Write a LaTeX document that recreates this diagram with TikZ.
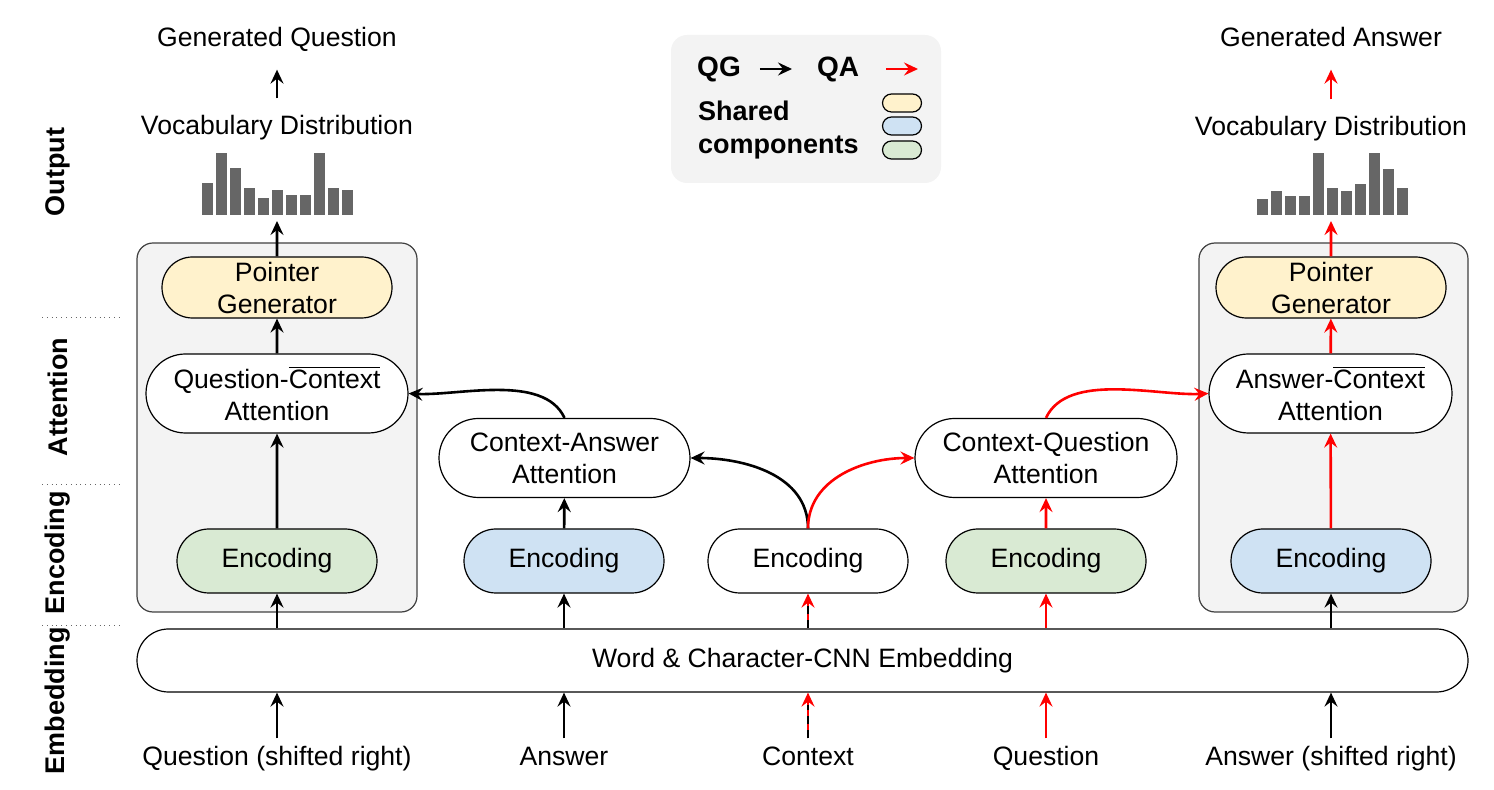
\documentclass[tikz,border=0pt]{standalone}
\usepackage{fontspec}
\setmainfont{Liberation Sans}
\usetikzlibrary{positioning,shapes.misc,arrows.meta}
\definecolor{ptryellow}{HTML}{FFF2CC}
\definecolor{encblue}{HTML}{CFE2F3}
\definecolor{encgreen}{HTML}{D9EAD3}
\definecolor{panelgray}{HTML}{F3F3F3}
\definecolor{bargray}{HTML}{666666}
\newcommand{\ctxbar}{\ensuremath{\overline{\mbox{Context}}}}

\begin{document}
\begin{tikzpicture}[x=0.5pt,y=-0.5pt,
                    font=\fontsize{13.3}{16}\selectfont,
                    >={Stealth[length=7pt,width=6.5pt,inset=2.5pt]},
                    pill/.style={rounded rectangle,draw,line width=0.6pt,align=center,inner sep=0pt},
                    enc node/.style={pill,minimum width=100pt,minimum height=32pt},
                    att node/.style={pill,fill=white,minimum width=131pt,minimum height=39.5pt},
                    ptr node/.style={pill,fill=ptryellow,minimum width=115pt,minimum height=30.5pt},
                    key pill/.style={pill,minimum width=19.5pt,minimum height=9pt},
                    io label/.style={text height=9.8pt,text depth=2.8pt},
                    flow/.style={->,line width=1.3pt},
                    qa flow/.style={flow,red},
                    panel/.style={draw=black!75,fill=panelgray,rounded corners=8pt,line width=0.6pt},
                    layer/.style={rotate=90,font=\fontsize{13.5}{16}\selectfont\bfseries}]

  \useasboundingbox (0,0) rectangle (1494,790);

  % panels
  \fill[panelgray,rounded corners=8pt] (671,35) rectangle (941,183);
  \draw[panel] (137,243) rectangle (417,612);
  \draw[panel] (1199,243) rectangle (1468,612);

  % layer labels
  \node[layer] at (58,172) {Output};
  \node[layer] at (58,397) {Attention};
  \node[layer] at (58,553) {Encoding};
  \node[layer] at (58,701) {Embedding};
  \foreach \y in {317,484,625}
    \draw[dotted,black!60] (42,\y) -- (122,\y);

  % legend
  \node[font=\fontsize{14}{16}\selectfont\bfseries] (qg) at (719,69) {QG};
  \coordinate (qgtip) at (792,69);
  \node[font=\fontsize{14}{16}\selectfont\bfseries] (qa) at (838,69) {QA};
  \coordinate (qatip) at (918,69);
  \draw[flow,shorten <=6pt] (qg) -- (qgtip);
  \draw[qa flow,shorten <=10pt] (qa) -- (qatip);
  \node[anchor=west,align=left,font=\fontsize{13.5}{16.5}\selectfont\bfseries] (shared) at (691,130) {Shared\\components};
  \node[key pill,fill=ptryellow] (key1) at (902,103) {};
  \node[key pill,fill=encblue] (key2) at (902,126) {};
  \node[key pill,fill=encgreen] (key3) at (902,150) {};

  % embedding
  \node[pill,fill=white,minimum width=665.5pt,minimum height=31.5pt] (emb) at (802.5,660.5) {Word \& Character-CNN Embedding};

  % inputs
  \node[io label] (qin) at (277,758) {Question (shifted right)};
  \node[io label] (ain) at (564,758) {Answer};
  \node[io label] (cin) at (808,758) {Context};
  \node[io label] (qqin) at (1046,758) {Question};
  \node[io label] (ain2) at (1331,758) {Answer (shifted right)};

  % encodings
  \node[enc node,fill=encgreen] (lenc) at (277,561) {Encoding};
  \node[enc node,fill=encblue] (aenc) at (564,561) {Encoding};
  \node[enc node,fill=white] (cenc) at (808,561) {Encoding};
  \node[enc node,fill=encgreen] (qenc) at (1046,561) {Encoding};
  \node[enc node,fill=encblue] (renc) at (1331,561) {Encoding};

  % attention
  \node[att node] (qcatt) at (277,393.5) {Question-\ctxbar\\Attention};
  \node[att node,minimum width=125.5pt] (caatt) at (564.5,458) {Context-Answer\\Attention};
  \node[att node] (cqatt) at (1046,458) {Context-Question\\Attention};
  \node[att node,minimum width=121.5pt] (acatt) at (1330.5,393.5) {Answer-\ctxbar\\Attention};

  % pointer generators
  \node[ptr node] (lptr) at (277,287.5) {Pointer\\Generator};
  \node[ptr node] (rptr) at (1331,287.5) {Pointer\\Generator};

  % outputs
  \foreach \h [count=\i from 0] in {31.7,62.3,46.7,27.3,16.7,25,20,20,62.3,27.3,25}
    \fill[bargray] ({201.7+14*\i},215) rectangle ++(11.5,-\h);
  \foreach \h [count=\i from 0] in {15.7,24.3,19.3,19.3,61.7,26.7,24.3,30.7,61.7,45.7,26.7}
    \fill[bargray] ({1256.7+14*\i},215) rectangle ++(11.5,-\h);
  \coordinate (lhist) at (277,221);
  \coordinate (rhist) at (1331,221);
  \node[io label] (lvd) at (277,128) {Vocabulary Distribution};
  \node[io label] (rvd) at (1331,129) {Vocabulary Distribution};
  \node[io label] (lgq) at (277,40) {Generated Question};
  \node[io label] (rga) at (1331,40) {Generated Answer};

  % QG path
  \draw[flow] (qin) -- (qin |- emb.south);
  \draw[flow] (ain) -- (ain |- emb.south);
  \draw[flow] (lenc |- emb.north) -- (lenc.south);
  \draw[flow] (aenc |- emb.north) -- (aenc.south);
  \draw[flow] (aenc) -- (caatt);
  \draw[flow] (lenc) -- (qcatt);
  \draw[flow] (qcatt) -- (lptr);
  \draw[flow] (lptr) -- (lhist);
  \draw[flow,shorten <=5pt,shorten >=5pt] (lvd) -- (lgq);
  \draw[flow] (cenc.north) to[out=90,in=0] (caatt.east);
  \draw[flow] (caatt.north) to[out=115,in=-3,looseness=0.8] (qcatt.east);

  % QA path
  \draw[flow] (ain2) -- (ain2 |- emb.south);
  \draw[flow] (renc |- emb.north) -- (renc.south);
  \draw[qa flow] (qqin) -- (qqin |- emb.south);
  \draw[qa flow] (qenc |- emb.north) -- (qenc.south);
  \draw[qa flow] (qenc) -- (cqatt);
  \draw[qa flow] (renc) -- (acatt);
  \draw[qa flow] (acatt) -- (rptr);
  \draw[qa flow] (rptr) -- (rhist);
  \draw[qa flow,shorten <=5pt,shorten >=5pt] (rvd) -- (rga);
  \draw[qa flow] (cenc.north) to[out=90,in=180] (cqatt.west);
  \draw[qa flow] (cqatt.north) to[out=65,in=183,looseness=0.8] (acatt.west);

  % context feeds both tasks
  \draw[qa flow] (cin) -- (cin |- emb.south);
  \draw[qa flow] (cenc |- emb.north) -- (cenc.south);
  \draw[line width=1.3pt,dash pattern=on 4pt off 3pt,shorten >=6pt] (cin) -- (cin |- emb.south);
  \draw[line width=1.3pt,dash pattern=on 4pt off 3pt,shorten >=6pt] (cenc |- emb.north) -- (cenc.south);

\end{tikzpicture}
\end{document}
